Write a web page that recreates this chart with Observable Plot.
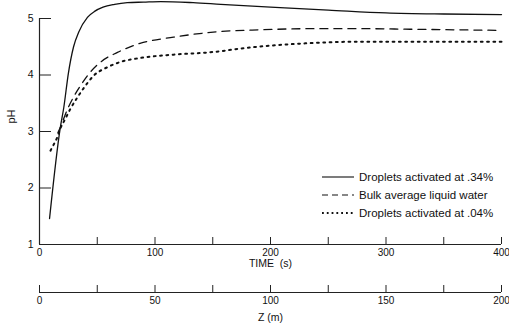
<!DOCTYPE html>
<html>
<head>
<meta charset="utf-8">
<script src="https://cdn.jsdelivr.net/npm/d3@7"></script>
<script src="https://cdn.jsdelivr.net/npm/@observablehq/plot@0.6"></script>
<style>
  html, body { margin: 0; padding: 0; background: #fff; }
  svg { font-family: "Liberation Sans", Arial, sans-serif; }
</style>
</head>
<body>
<div id="chart"></div>
<script>
// Droplets activated at .34%
const t034  = [8.7, 18, 21, 25, 29.5, 34, 41.5, 48, 55, 65, 76, 90, 105, 133, 157, 200, 250, 300, 350, 400];
const ph034 = [1.46, 3.07, 3.42, 4.03, 4.50, 4.76, 5.02, 5.13, 5.20, 5.25, 5.28, 5.29, 5.30, 5.28, 5.25, 5.20, 5.15, 5.10, 5.08, 5.07];
// Bulk average liquid water
const tBulk  = [16, 18, 21, 25, 29.5, 35.5, 44, 53, 67.5, 87, 116, 157, 191, 235, 278, 321, 360, 400];
const phBulk = [2.98, 3.07, 3.23, 3.43, 3.61, 3.81, 4.05, 4.23, 4.40, 4.56, 4.67, 4.77, 4.80, 4.82, 4.82, 4.81, 4.80, 4.79];
// Droplets activated at .04%
const t004  = [9.5, 11, 15, 18, 22.5, 27, 33, 38, 47, 59, 70, 87, 116, 152, 175, 200, 230, 278, 340, 400];
const ph004 = [2.66, 2.72, 2.88, 3.05, 3.23, 3.41, 3.61, 3.76, 3.99, 4.14, 4.23, 4.30, 4.36, 4.41, 4.47, 4.52, 4.56, 4.59, 4.59, 4.59];

const seriesLabels = ["Droplets activated at .34%", "Bulk average liquid water", "Droplets activated at .04%"];
const timeTicks = [0, 100, 200, 300, 400];
const timeMinorTicks = [50, 100, 150, 200, 250, 300, 350, 400];
const zTicks = [0, 50, 100, 150, 200];
const zMinorTicks = [0, 25, 50, 75, 100, 125, 150, 175, 200];
const phTicks = [1, 2, 3, 4, 5];

const W = 509, H = 331;
const mL = 39, mR = 8, mT = 18, mB = 87;
const frameW = W - mL - mR, frameH = H - mT - mB;
const zOffset = 48;

const toRows = (ts, ps) => ts.map((t, i) => ({t, ph: ps[i]}));
const s034 = toRows(t034, ph034);
const sBulk = toRows(tBulk, phBulk);
const s004 = toRows(t004, ph004);

const plot = Plot.plot({
  width: W, height: H,
  marginLeft: mL, marginRight: mR, marginTop: mT, marginBottom: mB,
  style: {fontFamily: "Liberation Sans, Arial, sans-serif", background: "#fff", color: "#111"},
  x: {domain: [0, 400]},
  y: {domain: [1, 5]},
  marks: [
    // axis lines
    Plot.ruleX([0], {stroke: "#222", strokeWidth: 1.2}),
    Plot.ruleY([1], {stroke: "#222", strokeWidth: 1.2}),
    Plot.ruleY([1], {stroke: "#222", strokeWidth: 1.2, dy: zOffset}),
    // inward ticks
    Plot.ruleY(phTicks, {y: d => d, insetRight: frameW - 12, stroke: "#222"}),
    Plot.ruleX(timeMinorTicks, {x: d => d, insetTop: frameH - 7, stroke: "#222"}),
    Plot.ruleX(zMinorTicks, {x: d => d * 2, insetTop: frameH - 7, stroke: "#222", dy: zOffset}),
    // tick labels
    Plot.axisY({ticks: phTicks, tickFormat: "d", tickSize: 0, tickPadding: 6, fontSize: 10.5, label: null}),
    Plot.axisX({ticks: timeTicks, tickFormat: "d", tickSize: 0, tickPadding: 4, fontSize: 10, label: null}),
    Plot.text(zTicks, {x: d => d * 2, text: d => String(d), frameAnchor: "bottom", lineAnchor: "top", dy: zOffset + 4, fontSize: 10}),
    // axis titles
    Plot.text(["TIME\u00a0\u00a0(s)"], {frameAnchor: "bottom", dy: 22, fontSize: 10.5}),
    Plot.text(["Z (m)"], {frameAnchor: "bottom", dy: 76, fontSize: 10.5}),
    Plot.text(["pH"], {frameAnchor: "top-left", dx: -32, dy: 105, rotate: -90, fontSize: 11}),
    // data
    Plot.line(s034, {x: "t", y: "ph", stroke: "#111", strokeWidth: 1.3, curve: "monotone-x"}),
    Plot.line(sBulk, {x: "t", y: "ph", stroke: "#111", strokeWidth: 1.3, strokeDasharray: "8,6", curve: "monotone-x"}),
    Plot.line(s004, {x: "t", y: "ph", stroke: "#111", strokeWidth: 2, strokeDasharray: "1.8,4.5", curve: "monotone-x"})
  ]
});

// legend
const svg = d3.select(plot);
const dashes = [null, "6,4", "1.8,3"];
const widths = [1.1, 1.2, 1.8];
const legend = svg.append("g").attr("text-anchor", "start");
seriesLabels.forEach((label, i) => {
  const y = 177 + i * 18;
  legend.append("line")
    .attr("x1", 322).attr("x2", 354).attr("y1", y).attr("y2", y)
    .attr("stroke", "#111").attr("stroke-width", widths[i])
    .attr("stroke-dasharray", dashes[i]);
  legend.append("text")
    .attr("x", 359).attr("y", y).attr("dy", "0.35em")
    .attr("text-anchor", "start")
    .attr("font-size", 11.5).attr("fill", "#111")
    .text(label);
});

document.getElementById("chart").appendChild(plot);
</script>
</body>
</html>
